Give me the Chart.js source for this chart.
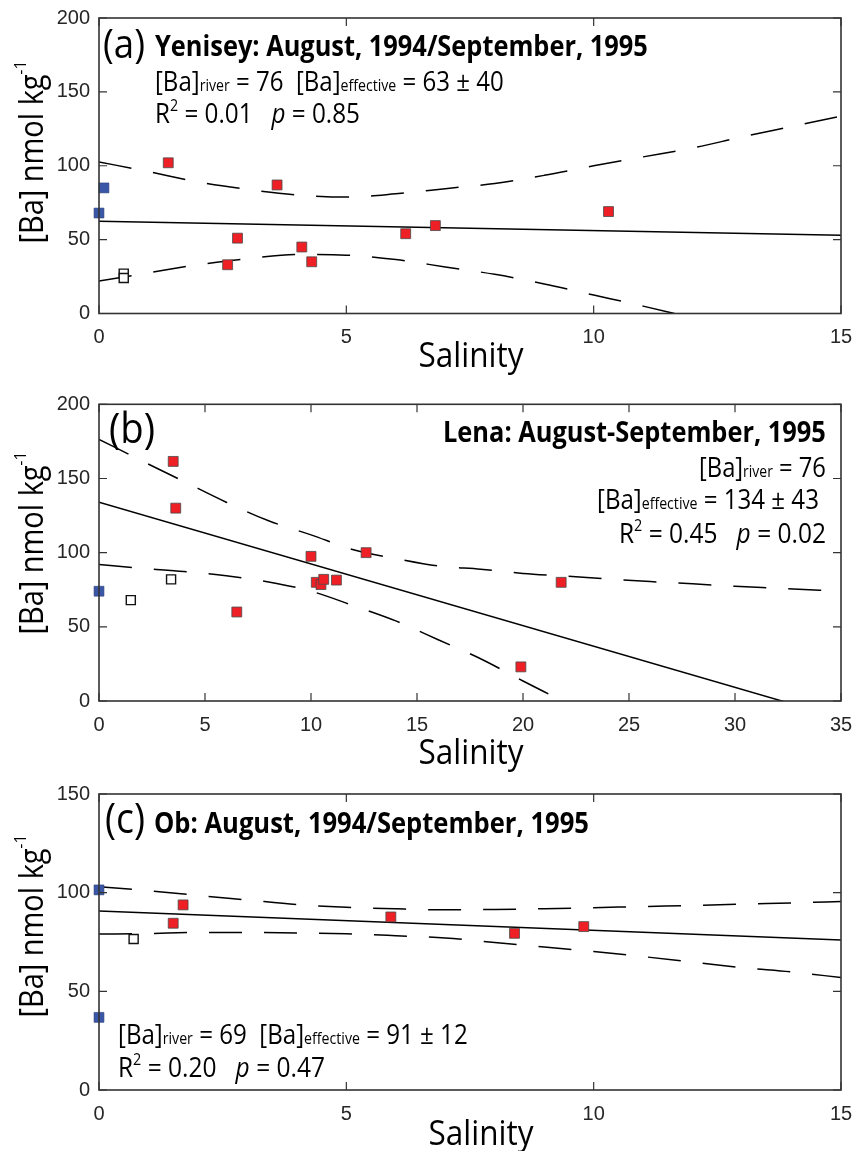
<!DOCTYPE html>
<html><head><meta charset="utf-8">
<script src="https://cdn.jsdelivr.net/npm/chart.js@4.4.1/dist/chart.umd.min.js"></script>
<style>
html,body{margin:0;padding:0;background:#fff;}
#wrap{position:relative;width:854px;height:1151px;overflow:hidden;}
.panel{position:absolute;left:0;width:854px;}
canvas{display:block;}
</style></head><body>
<div id="wrap">
<div class="panel" style="top:0;height:390px"><canvas id="ca" width="854" height="390"></canvas></div>
<div class="panel" style="top:390px;height:390px"><canvas id="cb" width="854" height="390"></canvas></div>
<div class="panel" style="top:780px;height:371px"><canvas id="cc" width="854" height="371"></canvas></div>
</div>
<script>
// ---------- Panel (a) Yenisey ----------
const aRiverX = [0, 0.1];
const aRiverY = [68, 85];
const aOpenX = [0.5, 0.5];
const aOpenY = [27, 24];
const aRedX = [1.4, 2.6, 2.8, 3.6, 4.1, 4.3, 6.2, 6.8, 10.3];
const aRedY = [102, 33, 51, 87, 45, 35, 54, 59.5, 69];
const aFitX = [0, 15];
const aFitY = [62.5, 53];
const aBandX = [0, 1, 2, 3, 4, 5, 6, 7, 8, 9, 10, 11, 12, 13, 14, 15];
const aUpper = [102.6, 96, 89, 84, 80.3, 78.8, 81, 84.5, 88, 93.5, 100, 106, 112, 119.5, 126.5, 133.5];
const aLower = [22, 27.5, 33, 37, 40, 39.5, 36.5, 31.5, 26.5, 20, 12.5, 5, -3, -11, -19, -27];
const aXTicks = [0, 5, 10, 15];
const aYTicks = [0, 50, 100, 150, 200];

// ---------- Panel (b) Lena ----------
const bRiverX = [0];
const bRiverY = [74];
const bOpenX = [1.5, 3.4];
const bOpenY = [68, 82];
const bRedX = [3.5, 3.62, 6.5, 10.0, 10.25, 10.47, 10.6, 11.2, 12.6, 19.9, 21.8];
const bRedY = [161.5, 130, 60, 97.5, 80, 78.5, 82, 81.5, 100, 23, 80];
const bFitX = [0, 35];
const bFitY = [134, -11.6];
const bUpperX = [0, 2, 4, 6, 8, 10, 12, 14, 16, 18, 20, 22, 24, 26, 28, 30, 32, 35];
const bUpper = [176.4, 162, 148, 134, 121.5, 112, 102, 96, 91, 88.8, 86, 84.2, 82.3, 80.5, 79, 77.3, 76, 74];
const bLowerX = [0, 2, 4, 6, 8, 10, 12, 14, 16, 18, 20, 22, 24];
const bLower = [92, 89.5, 87.3, 84.5, 80.2, 74, 64.3, 54, 41.3, 28.5, 13.5, -1, -16];
const bXTicks = [0, 5, 10, 15, 20, 25, 30, 35];
const bYTicks = [0, 50, 100, 150, 200];

// ---------- Panel (c) Ob ----------
const cRiverX = [0, 0];
const cRiverY = [101.4, 36.8];
const cOpenX = [0.7];
const cOpenY = [76.5];
const cRedX = [1.5, 1.7, 5.9, 8.4, 9.8];
const cRedY = [84.5, 93.8, 87.7, 79.4, 82.8];
const cFitX = [0, 15];
const cFitY = [90.7, 76];
const cBandX = [0, 1, 2, 3, 4, 5, 6, 7, 8, 9, 10, 11, 12, 13, 14, 15];
const cUpper = [103, 101, 98.6, 96.3, 94, 92.6, 91.8, 91.3, 91.5, 91.9, 92.4, 93, 93.5, 94.2, 94.8, 95.5];
const cLower = [79, 79.3, 79.8, 79.8, 79.6, 79.2, 78.2, 77, 74.8, 72.5, 70.2, 67.6, 64.8, 62, 59.8, 57];
const cXTicks = [0, 5, 10, 15];
const cYTicks = [0, 50, 100, 150];

// ---------- styling helpers ----------
const RED = '#EE1F25', BLUE = '#3A56A6';
const SANS = '"Open Sans", "Noto Sans", sans-serif';
const TICKFONT = '"Liberation Sans", Arial, sans-serif';
const SQUEEZE = 0.9;

function pts(xs, ys) { return xs.map((x, i) => ({x: x, y: ys[i]})); }
function markerSet(xs, ys, kind) {
  const base = {type: 'scatter', data: pts(xs, ys), pointStyle: 'rect', order: 1, showLine: false, clip: false};
  if (kind === 'red') return Object.assign(base, {pointRadius: 7, backgroundColor: RED, borderColor: '#4a4a4a', borderWidth: 0.8});
  if (kind === 'blue') return Object.assign(base, {pointRadius: 7, backgroundColor: BLUE, borderColor: '#2b3f7a', borderWidth: 0.6});
  return Object.assign(base, {pointRadius: 6.4, backgroundColor: '#ffffff', borderColor: '#111', borderWidth: 1.4});
}
function lineSet(xs, ys, dashed) {
  return {type: 'line', data: pts(xs, ys), showLine: true, pointRadius: 0, borderColor: '#000',
    borderWidth: 1.5, borderDash: dashed ? [33, 22] : [], tension: 0, cubicInterpolationMode: dashed ? 'monotone' : 'default',
    fill: false, order: 5, clip: 0};
}

function segWidth(ctx, segs, k) {
  let w = 0;
  for (const s of segs) { ctx.font = (s.st || '') + ' ' + (s.w || 400) + ' ' + (s.s * k) + 'px ' + SANS; w += ctx.measureText(s.t).width; }
  return w;
}
// draw rich text (slightly condensed) scaled so that it spans x0..x1
function drawFit(ctx, segs, x0, x1, base) {
  const w1 = segWidth(ctx, segs, 1);
  const k = (x1 - x0) / (w1 * SQUEEZE);
  ctx.save();
  ctx.translate(x0, base);
  ctx.scale(SQUEEZE, 1);
  let cx = 0;
  ctx.textBaseline = 'alphabetic'; ctx.textAlign = 'left'; ctx.fillStyle = '#000';
  for (const s of segs) {
    ctx.font = (s.st || '') + ' ' + (s.w || 400) + ' ' + (s.s * k) + 'px ' + SANS;
    ctx.fillText(s.t, cx, (s.dy || 0) * k);
    cx += ctx.measureText(s.t).width;
  }
  ctx.restore();
}

function makePanel(id, cfg) {
  const cv = document.getElementById(id);
  const H = cv.height;
  const deco = {
    id: 'deco' + id,
    afterDraw(chart) {
      const ctx = chart.ctx, ca = chart.chartArea, xs = chart.scales.x, ys = chart.scales.y;
      ctx.save();
      ctx.strokeStyle = '#333'; ctx.lineWidth = 1.6;
      ctx.strokeRect(ca.left, ca.top, ca.right - ca.left, ca.bottom - ca.top);
      ctx.lineWidth = 1.2;
      const TL = 8;
      ctx.beginPath();
      for (const v of cfg.xTicks) {
        const px = xs.getPixelForValue(v);
        ctx.moveTo(px, ca.bottom); ctx.lineTo(px, ca.bottom - TL);
        ctx.moveTo(px, ca.top); ctx.lineTo(px, ca.top + TL);
      }
      for (const v of cfg.yTicks) {
        const py = ys.getPixelForValue(v);
        ctx.moveTo(ca.left, py); ctx.lineTo(ca.left + TL, py);
        ctx.moveTo(ca.right, py); ctx.lineTo(ca.right - TL, py);
      }
      ctx.stroke();
      // axis titles
      drawFit(ctx, [{t: 'Salinity', s: 30}], cfg.salX - 52.5, cfg.salX + 52.5, cfg.salBase);
      ctx.save();
      ctx.translate(42.5, cfg.yTitleC);
      ctx.rotate(-Math.PI / 2);
      drawFit(ctx, [{t: '[Ba] nmol kg', s: 30}, {t: '-1', s: 16, dy: -15}], -91.5, 91.5, 0);
      ctx.restore();
      // annotations
      for (const a of cfg.texts) {
        drawFit(ctx, a.segs, a.x0, a.x1, a.base);
      }
      ctx.restore();
    }
  };
  return new Chart(cv, {
    data: {datasets: cfg.datasets},
    options: {
      responsive: false, animation: false, events: [],
      layout: {padding: {left: 0, right: 854 - 841, top: cfg.top, bottom: 0}},
      plugins: {legend: {display: false}, tooltip: {enabled: false}},
      scales: {
        x: {type: 'linear', position: 'bottom', min: cfg.xMin, max: cfg.xMax,
          afterBuildTicks(s) { s.ticks = cfg.xTicks.map(v => ({value: v})); },
          ticks: {color: '#262626', font: {family: TICKFONT, size: 20}, padding: 12, maxRotation: 0, autoSkip: false},
          grid: {display: false, drawTicks: false}, border: {display: false},
          afterFit(s) { s.height = H - cfg.bottom; s.paddingLeft = 0; s.paddingRight = 0; s.paddingTop = 0; s.paddingBottom = 0; }},
        y: {type: 'linear', position: 'left', min: cfg.yMin, max: cfg.yMax,
          afterBuildTicks(s) { s.ticks = cfg.yTicks.map(v => ({value: v})); },
          ticks: {color: '#262626', font: {family: TICKFONT, size: 20}, padding: 9, autoSkip: false},
          grid: {display: false, drawTicks: false}, border: {display: false},
          afterFit(s) { s.width = 99; s.paddingTop = 0; s.paddingBottom = 0; s.paddingLeft = 0; s.paddingRight = 0; }}
      }
    },
    plugins: [deco]
  });
}

const R = 23, S = 13.5;
// Panel (a)
makePanel('ca', {
  top: 18, bottom: 313.5, xMin: 0, xMax: 15, yMin: 0, yMax: 200, xTicks: aXTicks, yTicks: aYTicks,
  salX: 471, salBase: 366.5, yTitleC: 152,
  datasets: [
    markerSet(aRedX, aRedY, 'red'), markerSet(aRiverX, aRiverY, 'blue'), markerSet(aOpenX, aOpenY, 'open'),
    lineSet(aFitX, aFitY, false), lineSet(aBandX, aUpper, true), lineSet(aBandX, aLower, true)
  ],
  texts: [
    {segs: [{t: '(a)', s: 30}], x0: 103, x1: 145, base: 58},
    {segs: [{t: 'Yenisey: August, 1994/September, 1995', s: 22, w: 700}], x0: 155, x1: 648, base: 56},
    {segs: [{t: '[Ba]', s: R}, {t: 'river', s: S}, {t: ' = 76  [Ba]', s: R}, {t: 'effective', s: S}, {t: ' = 63 ± 40', s: R}], x0: 155, x1: 504, base: 90.5},
    {segs: [{t: 'R', s: R}, {t: '2', s: S, dy: -10}, {t: ' = 0.01   ', s: R}, {t: 'p', s: R, st: 'italic'}, {t: ' = 0.85', s: R}], x0: 155, x1: 360, base: 123}
  ]
});
// Panel (b)
makePanel('cb', {
  top: 14.3, bottom: 311, xMin: 0, xMax: 35, yMin: 0, yMax: 200, xTicks: bXTicks, yTicks: bYTicks,
  salX: 471, salBase: 374, yTitleC: 153,
  datasets: [
    markerSet(bRedX, bRedY, 'red'), markerSet(bRiverX, bRiverY, 'blue'), markerSet(bOpenX, bOpenY, 'open'),
    lineSet(bFitX, bFitY, false), lineSet(bUpperX, bUpper, true), lineSet(bLowerX, bLower, true)
  ],
  texts: [
    {segs: [{t: '(b)', s: 30}], x0: 109, x1: 155, base: 53},
    {segs: [{t: 'Lena: August-September, 1995', s: 22, w: 700}], x0: 443, x1: 826, base: 51.7},
    {segs: [{t: '[Ba]', s: R}, {t: 'river', s: S}, {t: ' = 76', s: R}], x0: 699, x1: 826, base: 87.3},
    {segs: [{t: '[Ba]', s: R}, {t: 'effective', s: S}, {t: ' = 134 ± 43', s: R}], x0: 597, x1: 819, base: 119.3},
    {segs: [{t: 'R', s: R}, {t: '2', s: S, dy: -10}, {t: ' = 0.45   ', s: R}, {t: 'p', s: R, st: 'italic'}, {t: ' = 0.02', s: R}], x0: 619, x1: 826, base: 153.3}
  ]
});
// Panel (c)
makePanel('cc', {
  top: 14, bottom: 310, xMin: 0, xMax: 15, yMin: 0, yMax: 150, xTicks: cXTicks, yTicks: cYTicks,
  salX: 481, salBase: 365, yTitleC: 146,
  datasets: [
    markerSet(cRedX, cRedY, 'red'), markerSet(cRiverX, cRiverY, 'blue'), markerSet(cOpenX, cOpenY, 'open'),
    lineSet(cFitX, cFitY, false), lineSet(cBandX, cUpper, true), lineSet(cBandX, cLower, true)
  ],
  texts: [
    {segs: [{t: '(c)', s: 30}], x0: 105, x1: 145, base: 53.3},
    {segs: [{t: 'Ob: August, 1994/September, 1995', s: 22, w: 700}], x0: 154, x1: 589, base: 53.3},
    {segs: [{t: '[Ba]', s: R}, {t: 'river', s: S}, {t: ' = 69  [Ba]', s: R}, {t: 'effective', s: S}, {t: ' = 91 ± 12', s: R}], x0: 118, x1: 468, base: 264.3},
    {segs: [{t: 'R', s: R}, {t: '2', s: S, dy: -10}, {t: ' = 0.20   ', s: R}, {t: 'p', s: R, st: 'italic'}, {t: ' = 0.47', s: R}], x0: 118, x1: 325, base: 296.7}
  ]
});
</script>
</body></html>
